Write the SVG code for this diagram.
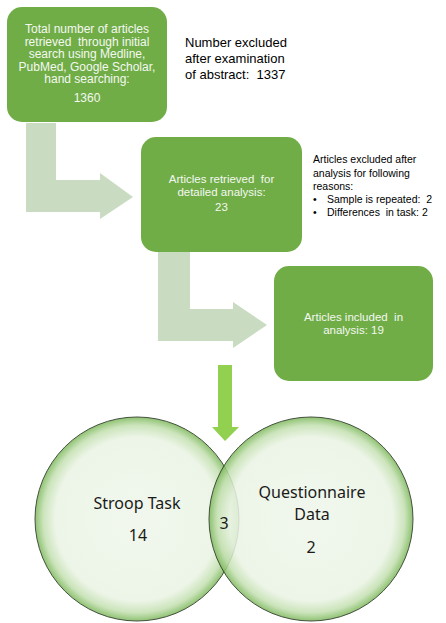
<svg xmlns="http://www.w3.org/2000/svg" width="446" height="623" viewBox="0 0 446 623">
<style>
text{white-space:pre}
.box{fill:#70ad47}
.bent{fill:#c9dcc1}
.wt{fill:#f4f8f1;font-family:"Liberation Sans",Arial,sans-serif;font-size:11.5px;text-anchor:middle}
.bt{fill:#000000;font-family:"Liberation Sans",Arial,sans-serif}
.vt{fill:#1a1a1a;font-family:"Noto Sans","Open Sans",sans-serif;font-size:16px;text-anchor:middle}
.circ{fill:url(#glow);stroke:#26331f;stroke-width:1;opacity:0.85}
</style>
<defs>
<radialGradient id="glow" cx="0.5" cy="0.5" r="0.5">
<stop offset="0" stop-color="#eff6ea"/>
<stop offset="0.8" stop-color="#ebf4e5"/>
<stop offset="0.92" stop-color="#c3e0b0"/>
<stop offset="1" stop-color="#7cb85b"/>
</radialGradient>
</defs>
<g id="connectors">
<path class="bent" d="M26,123 H56 V180 H100 V173 L133,197 L100,219 V212 H26 Z"/>
<path class="bent" d="M158,252 H190 V309 H233 V302 L267,325 L233,348 V341 H158 Z"/>
<path fill="#92d050" d="M218,365 H232 V427 H239 L225,441 L212,427 H218 Z"/>
</g>
<g id="box1">
<rect class="box" x="7" y="7" width="160" height="115" rx="15"/>
<text class="wt" style="font-size:12px"><tspan x="87" y="33">Total number of articles</tspan><tspan x="87" y="45.5">retrieved  through initial</tspan><tspan x="87" y="58">search using Medline,</tspan><tspan x="87" y="70.5">PubMed, Google Scholar,</tspan><tspan x="87" y="83">hand searching:</tspan><tspan x="87" y="102">1360</tspan></text>
</g>
<g id="note1">
<text class="bt" style="font-size:13px"><tspan x="185" y="47">Number excluded</tspan><tspan x="185" y="63">after examination</tspan><tspan x="185" y="79">of abstract:  1337</tspan></text>
</g>
<g id="box2">
<rect class="box" x="141" y="137" width="161" height="115" rx="15"/>
<text class="wt"><tspan x="221.5" y="183">Articles retrieved  for</tspan><tspan x="221.5" y="196">detailed analysis:</tspan><tspan x="221.5" y="211">23</tspan></text>
</g>
<g id="note2">
<text class="bt" style="font-size:10.5px"><tspan x="313" y="163">Articles excluded after</tspan><tspan x="313" y="177">analysis for following</tspan><tspan x="313" y="190">reasons:</tspan><tspan x="313" y="203">•</tspan><tspan x="327" y="203">Sample is repeated:  2</tspan><tspan x="313" y="216">•</tspan><tspan x="327" y="216">Differences  in task: 2</tspan></text>
</g>
<g id="box3">
<rect class="box" x="274" y="266" width="159" height="115" rx="15"/>
<text class="wt"><tspan x="353.5" y="320.5">Articles included  in</tspan><tspan x="353.5" y="333.5">analysis: 19</tspan></text>
</g>
<g id="venn">
<circle class="circ" cx="137" cy="519" r="102"/>
<circle class="circ" cx="311" cy="519" r="102"/>
<text class="vt"><tspan x="137" y="509">Stroop Task</tspan><tspan x="138" y="541">14</tspan></text>
<text class="vt"><tspan x="312" y="498">Questionnaire</tspan><tspan x="312" y="520">Data</tspan><tspan x="311" y="553">2</tspan></text>
<text class="vt" x="224" y="529">3</text>
</g>
</svg>
